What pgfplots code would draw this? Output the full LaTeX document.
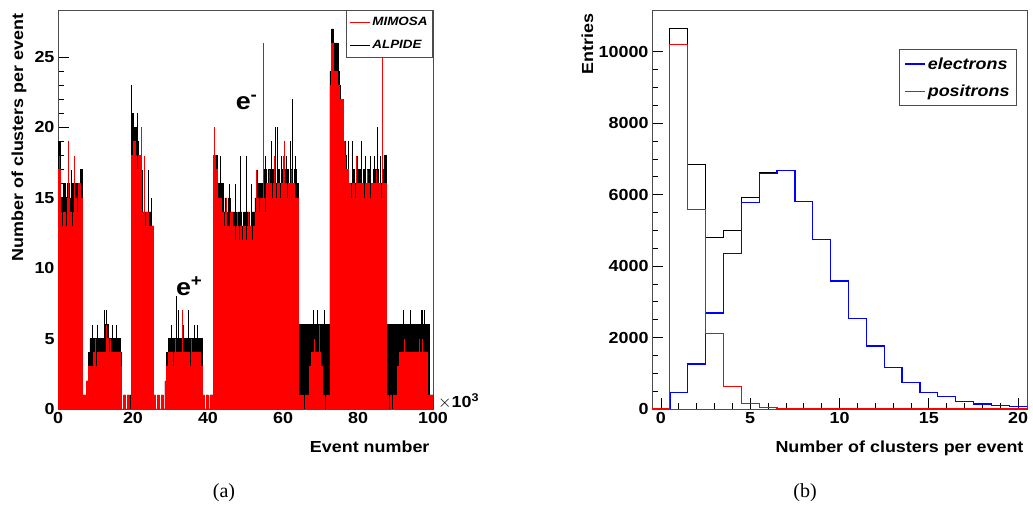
\documentclass[border=0pt]{standalone}
\usepackage{pgfplots}
\pgfplotsset{compat=1.18}
\usepackage{pgfplotstable}
\usepackage{fontspec}
\setmainfont{Liberation Sans}
\newfontfamily\rootfont[FakeStretch=1.12]{Liberation Sans}
\newfontfamily\capfont{Liberation Serif}

% clusters per event, in bins of 500 events (x in units of 10^3 events)
\pgfplotstableread[row sep=\\]{
x mimosa alpide\\
0 17 19\\ 0.5 14 15\\ 1 13 15\\ 1.5 14 16\\ 2 13 15\\ 2.5 15 16\\ 3 14 15\\ 3.5 13 16\\
4 14 15\\ 4.5 15 16\\ 5 14 16\\ 5.5 16 16\\ 6 15 17\\ 6.5 1 1\\ 7 1 1\\ 7.5 2 2\\
8 3 4\\ 8.5 3 5\\ 9 3 5\\ 9.5 4 5\\ 10 3 5\\ 10.5 4 5\\ 11 4 5\\ 11.5 4 5\\
12 4 5\\ 12.5 4 6\\ 13 5 6\\ 13.5 4 5\\ 14 4 5\\ 14.5 4 5\\ 15 4 5\\ 15.5 4 5\\
16 4 5\\ 16.5 3 4\\ 17 0 0\\ 17.5 1 1\\ 18 0 0\\ 18.5 1 1\\ 19 0 1\\ 19.5 18 21\\
20 19 20\\ 20.5 18 20\\ 21 17 18\\ 21.5 18 18\\ 22 14 15\\ 22.5 14 14\\ 23 13 14\\ 23.5 14 14\\
24 13 14\\ 24.5 13 14\\ 25 13 13\\ 25.5 1 1\\ 26 0 0\\ 26.5 1 1\\ 27 0 0\\ 27.5 1 1\\
28 0 0\\ 28.5 2 2\\ 29 3 4\\ 29.5 4 5\\ 30 4 5\\ 30.5 3 5\\ 31 4 5\\ 31.5 4 5\\
32 4 5\\ 32.5 3 5\\ 33 4 5\\ 33.5 4 5\\ 34 4 5\\ 34.5 4 5\\ 35 3 5\\ 35.5 4 5\\
36 4 5\\ 36.5 4 5\\ 37 4 5\\ 37.5 4 5\\ 38 3 5\\ 38.5 1 1\\ 39 0 0\\ 39.5 1 1\\
40 0 0\\ 40.5 1 1\\ 41 1 1\\ 41.5 18 18\\ 42 17 18\\ 42.5 15 16\\ 43 15 16\\ 43.5 14 16\\
44 13 14\\ 44.5 14 15\\ 45 13 14\\ 45.5 13 15\\ 46 14 14\\ 46.5 13 14\\ 47 12 14\\ 47.5 13 13\\
48 12 14\\ 48.5 13 14\\ 49 12 13\\ 49.5 13 14\\ 50 12 14\\ 50.5 13 14\\ 51 13 13\\ 51.5 12 14\\
52 13 14\\ 52.5 14 15\\ 53 15 15\\ 53.5 14 16\\ 54 15 16\\ 54.5 15 16\\ 55 14 17\\ 55.5 16 16\\
56 15 17\\ 56.5 16 16\\ 57 15 17\\ 57.5 16 16\\ 58 15 16\\ 58.5 16 17\\ 59 15 16\\ 59.5 16 17\\
60 15 17\\ 60.5 16 16\\ 61 15 17\\ 61.5 16 16\\ 62 15 17\\ 62.5 16 16\\ 63 15 17\\ 63.5 15 16\\
64 1 6\\ 64.5 0 6\\ 65 1 6\\ 65.5 0 6\\ 66 1 6\\ 66.5 1 6\\ 67 3 6\\ 67.5 4 6\\
68 4 6\\ 68.5 4 6\\ 69 4 6\\ 69.5 4 6\\ 70 3 6\\ 70.5 1 6\\ 71 0 6\\ 71.5 1 6\\
72 1 6\\ 72.5 23 24\\ 73 26 27\\ 73.5 24 26\\ 74 24 26\\ 74.5 23 24\\ 75 22 22\\ 75.5 22 22\\
76 18 19\\ 76.5 17 18\\ 77 17 17\\ 77.5 16 16\\ 78 15 16\\ 78.5 16 17\\ 79 15 16\\ 79.5 16 16\\
80 16 17\\ 80.5 15 16\\ 81 16 16\\ 81.5 15 17\\ 82 16 16\\ 82.5 16 17\\ 83 15 16\\ 83.5 16 16\\
84 16 17\\ 84.5 15 16\\ 85 16 17\\ 85.5 16 16\\ 86 15 16\\ 86.5 16 17\\ 87 16 18\\ 87.5 1 6\\
88 0 6\\ 88.5 1 6\\ 89 0 6\\ 89.5 1 6\\ 90 1 6\\ 90.5 3 6\\ 91 4 6\\ 91.5 4 6\\
92 4 6\\ 92.5 4 6\\ 93 4 6\\ 93.5 4 6\\ 94 4 6\\ 94.5 4 6\\ 95 4 6\\ 95.5 4 6\\
96 4 6\\ 96.5 4 6\\ 97 4 6\\ 97.5 4 6\\ 98 4 6\\ 98.5 1 6\\ 99 1 1\\ 99.5 1 1\\
100 1 1\\
}\evtdata

% single events sticking out of the bulk
\pgfplotstableread[row sep=\\]{
x y\\
0.2 19\\ 0.6 17\\ 1.8 16\\ 3.7 17\\ 5.1 16\\ 6.3 17\\
9.1 6\\ 10.5 6\\ 12.3 7\\ 12.9 7\\ 13.3 6\\ 14.5 6\\ 15.6 6\\
19.6 23\\ 19.9 21\\ 21.1 21\\ 21.5 19\\ 22.6 17\\ 24.2 17\\ 24.9 15\\
30.3 6\\ 31.6 8\\ 32.2 7\\ 33.5 6\\ 34.8 7\\ 36.3 6\\ 37.1 6\\
42.1 18\\ 43.2 18\\ 45.7 16\\ 47.2 16\\ 48.6 18\\ 50.3 18\\ 51.6 16\\ 53.2 17\\ 55.2 18\\
56.9 19\\ 58.1 20\\ 58.5 20\\ 59.6 18\\ 60.9 18\\ 61.9 19\\ 62.6 22\\ 63.2 18\\
68.0 7\\ 69.2 7\\ 71.0 7\\
72.8 27\\ 73.4 26\\ 74.1 26\\ 74.7 26\\ 75.3 23\\ 76.2 20\\ 77.4 19\\ 78.5 19\\ 79.8 18\\
80.9 19\\ 82.1 18\\ 83.3 18\\ 84.4 18\\ 85.3 20\\ 86.1 18\\ 87.3 18\\
92.2 7\\ 94.1 7\\ 96.8 7\\ 97.3 7\\ 97.6 7\\
}\alpidespikes

\pgfplotstableread[row sep=\\]{
x y\\
0.3 18\\ 2.9 19\\ 4.5 18\\ 5.8 16\\
9.9 5\\ 12.8 6\\ 14.1 5\\
20.3 19\\ 22.2 20\\ 23.1 18\\
31.2 5\\ 33.2 7\\ 35.7 5\\
41.7 20\\ 44.9 15\\ 47.9 14\\ 50.9 14\\ 52.8 17\\ 54.9 26\\ 56.3 17\\ 57.7 18\\ 60.0 18\\ 60.4 19\\ 62.2 17\\
68.5 5\\ 69.8 6\\
73.1 26\\ 76.4 19\\ 79.5 18\\ 82.5 17\\ 84.9 17\\ 86.6 25\\
92.5 5\\ 96.5 5\\ 97.2 5\\
}\mimosaspikes

% distribution, lower bin edges
\pgfplotstableread[row sep=\\]{
x all electrons positrons\\
-0.5 0 0 0\\
0.5 10665 466 10204\\
1.5 6835 1257 5578\\
2.5 4804 2690 2114\\
3.5 4991 4349 642\\
4.5 5922 5774 148\\
5.5 6626 6590 36\\
6.5 6681 6676 5\\
7.5 5802 5802 0\\
8.5 4740 4740 0\\
9.5 3584 3584 0\\
10.5 2534 2534 0\\
11.5 1760 1760 0\\
12.5 1165 1165 0\\
13.5 735 735 0\\
14.5 466 466 0\\
15.5 355 355 0\\
16.5 215 215 0\\
17.5 140 140 0\\
18.5 92 92 0\\
19.5 64 64 0\\
20.5 64 64 0\\
}\histdata

\pgfplotsset{
  rootaxis/.style={
    scale only axis, width=375pt, height=399pt,
    axis line style={black!70, line width=0.8pt},
    tick align=inside, xtick pos=left, ytick pos=left,
    major tick length=11pt, minor tick length=6pt,
    every tick/.style={black, line width=0.8pt},
    ticklabel style={font=\rootfont\fontsize{16}{18}\selectfont\bfseries},
    /pgf/number format/assume math mode=true,
    /pgf/number format/set thousands separator={},
    scaled ticks=false,
    label style={font=\rootfont\fontsize{16}{18}\selectfont\bfseries},
    xlabel style={at={(rel axis cs:1,0)}, anchor=base east, yshift=-44pt},
    legend image code/.code={\draw[#1] (0pt,0pt) -- (20pt,0pt);},
    legend cell align=left,
  },
}

\begin{document}
\begin{tikzpicture}
\useasboundingbox (0pt,0pt) rectangle (1033pt,511pt);

\begin{axis}[rootaxis,
  at={(58pt,102pt)}, anchor=south west,
  xmin=0, xmax=100, ymin=0, ymax=28.34,
  xtick={0,20,...,100}, minor x tick num=3,
  ytick={0,5,...,25}, minor y tick num=4,
  xlabel={Event number},
  ylabel={Number of clusters per event},
  ylabel style={at={(axis description cs:-0.093,1)}, anchor=base east},
  legend style={at={(1,1)}, anchor=north east, draw=black!70, line width=0.8pt,
    fill=white, font=\rootfont\fontsize{12}{14}\selectfont\bfseries\itshape,
    inner xsep=3pt, inner ysep=5pt, row sep=9pt},
]
\addplot[const plot mark left, fill=black, draw=black, line width=0.6pt, forget plot]
  table[x=x, y=alpide] {\evtdata} \closedcycle;
\addplot[ycomb, black, line width=0.9pt, forget plot] table {\alpidespikes};
\addplot[const plot mark left, fill=red, draw=red, line width=0.6pt, forget plot]
  table[x=x, y=mimosa] {\evtdata} \closedcycle;
\addplot[ycomb, red, line width=0.9pt, forget plot] table {\mimosaspikes};
\addlegendimage{red, line width=0.9pt}
\addlegendentry{MIMOSA}
\addlegendimage{black, line width=0.9pt}
\addlegendentry{ALPIDE}
\node[font=\rootfont\fontsize{24}{26}\selectfont\bfseries] at (axis cs:50.3,21.8) {e\textsuperscript{-}};
\node[font=\rootfont\fontsize{24}{26}\selectfont\bfseries] at (axis cs:35.0,8.7) {e\textsuperscript{+}};
\end{axis}
\node[anchor=base west, font=\rootfont\fontsize{16}{18}\selectfont, inner sep=0pt]
  at (438pt,103pt) {$\times$\textbf{10\textsuperscript{3}}};

\begin{axis}[rootaxis,
  at={(652pt,102pt)}, anchor=south west,
  xmin=-0.5, xmax=20.5, ymin=0, ymax=11172,
  xtick={0,5,...,20}, minor x tick num=4,
  ytick={0,2000,...,10000}, minor y tick num=3,
  xlabel={Number of clusters per event},
  ylabel={Entries},
  ylabel style={at={(axis description cs:-0.157,1)}, anchor=base east},
  legend style={at={(0.973,0.902)}, anchor=north east, draw=black!70, line width=0.8pt,
    fill=white, font=\rootfont\fontsize{16}{18}\selectfont\bfseries\itshape,
    inner xsep=5pt, inner ysep=6pt, row sep=10pt},
]
\addplot[const plot mark left, black, line width=1.2pt, forget plot]
  table[x=x, y=all] {\histdata};
\addplot[const plot mark left, blue, line width=1.3pt]
  table[x=x, y=electrons] {\histdata};
\addlegendentry{electrons}
\addplot[const plot mark left, red, line width=1.1pt]
  table[x=x, y=positrons] {\histdata};
\addlegendentry{positrons}
\end{axis}

\node[font=\capfont\fontsize{20}{22}\selectfont] at (224pt,18pt) {(a)};
\node[font=\capfont\fontsize{20}{22}\selectfont] at (805pt,18pt) {(b)};
\end{tikzpicture}
\end{document}
